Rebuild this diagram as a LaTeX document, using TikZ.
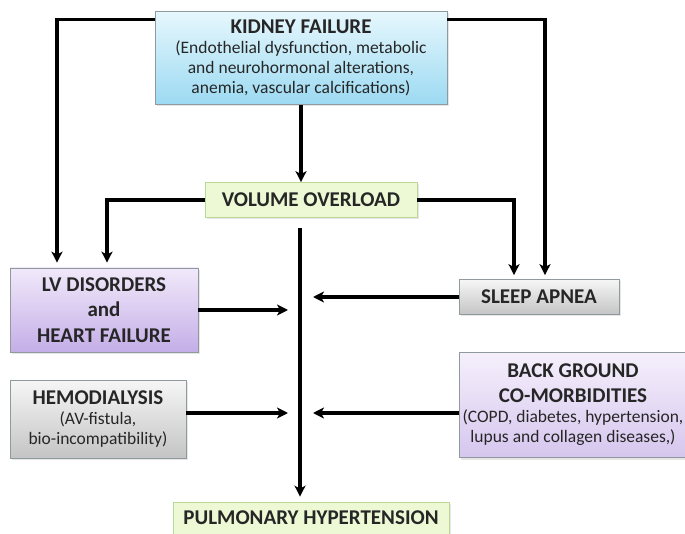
\documentclass[tikz,border=0pt]{standalone}
\usetikzlibrary{positioning,arrows.meta,shadows}
\usepackage{fontspec}
\setmainfont{Carlito}
\usepackage{xcolor}
\definecolor{txt}{HTML}{262626}
\definecolor{blueT}{HTML}{E6F7FD}
\definecolor{blueB}{HTML}{9CDAF2}
\definecolor{greenF}{HTML}{ECF9D4}
\definecolor{greenD}{HTML}{BCD896}
\definecolor{lilaT}{HTML}{F1E9FA}
\definecolor{lilaB}{HTML}{C4AEE7}
\definecolor{greyT}{HTML}{F6F6F6}
\definecolor{greyB}{HTML}{C4C4C4}
\definecolor{edgeC}{HTML}{8E9A9E}
\newcommand{\hdtxt}{\fontsize{21}{24}\bfseries\selectfont}

\begin{document}
\begin{tikzpicture}[x=1pt,y=1pt,>={Stealth[length=11pt,width=11pt,inset=3pt]},node distance=100pt,on grid]
\tikzstyle{box}=[rectangle,draw=edgeC,line width=0.7pt,align=center,text=txt,inner sep=1pt,
  font=\fontsize{17.5}{20}\selectfont,drop shadow={opacity=0.2,shadow xshift=2pt,shadow yshift=-2pt}]
\tikzstyle{kidbox}=[box,top color=blueT,bottom color=blueB,minimum width=292pt,minimum height=93pt]
\tikzstyle{greenbox}=[box,draw=greenD,fill=greenF,minimum height=35pt]
\tikzstyle{lilabox}=[box,top color=lilaT,bottom color=lilaB]
\tikzstyle{greybox}=[box,top color=greyT,bottom color=greyB]
\tikzstyle{flow}=[->,line width=3.2pt,black]

	\useasboundingbox (0,0) rectangle (685,-534);

	\node[kidbox] (kid) at (301,-58) {{\hdtxt KIDNEY FAILURE}\\(Endothelial dysfunction, metabolic\\and neurohormonal alterations,\\anemia, vascular calcifications)};
	\node[greenbox,minimum width=212pt] (vol) [below right=142pt and 10pt of kid] {\hdtxt VOLUME OVERLOAD};
	\node[lilabox,minimum width=188pt,minimum height=84pt,font=\fontsize{21}{25.5}\bfseries\selectfont] (lv) [below left=110pt and 207pt of vol] {LV DISORDERS\\and\\HEART FAILURE};
	\node[greybox,minimum width=160pt,minimum height=35pt] (sleep) [below right=97pt and 228pt of vol] {\hdtxt SLEEP APNEA};
	\node[greybox,minimum width=176pt,minimum height=78pt] (hemo) [below left=109pt and 6pt of lv] {{\hdtxt HEMODIALYSIS}\\(AV-fistula,\\bio-incompatibility)};
	\node[lilabox,top color=lilaT!70!white,bottom color=lilaB!70!white,minimum width=228pt,minimum height=105pt] (back) [below right=108pt and 34pt of sleep] {{\hdtxt BACK GROUND}\\[5pt]{\hdtxt CO-MORBIDITIES}\\(COPD, diabetes, hypertension,\\lupus and collagen diseases,)};
	\node[greenbox,minimum width=276pt,minimum height=32pt] (ph) [below=318pt of vol] {\hdtxt PULMONARY HYPERTENSION};

	\coordinate (top) at (300,-228);
	\coordinate (mid) at (300,-413);

	% kidney failure
	\draw[flow] (kid) -- (kid |- vol.north);
	\draw[flow,shorten >=5pt] ([yshift=-8pt]kid.north west) -| ([xshift=-47pt]lv.north);
	\draw[flow,shorten >=4pt] ([yshift=-8pt]kid.north east) -| ([xshift=6pt]sleep.north);
	% volume overload
	\draw[flow,shorten >=5pt] (vol.west) -| ([xshift=3pt]lv.north);
	\draw[flow,shorten >=4pt] (vol.east) -| ([xshift=-25pt]sleep.north);
	% main line
	\draw[flow,shorten >=5pt] (top) -- (top |- ph.north);
	\draw[flow,shorten >=12pt] (lv.east) -- (lv.east -| top);
	\draw[flow,shorten >=13pt] (sleep.west) -- (sleep.west -| top);
	\draw[flow,shorten >=12pt] (hemo.east |- mid) -- (mid);
	\draw[flow,shorten >=13pt] (back.west |- mid) -- (mid);
\end{tikzpicture}
\end{document}
